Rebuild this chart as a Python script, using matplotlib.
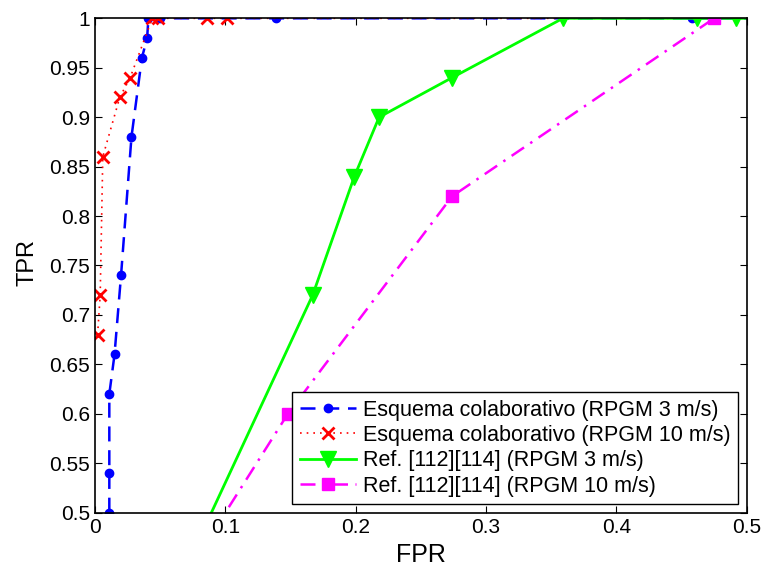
import numpy as np
import matplotlib.pyplot as plt

plt.rcParams['font.family'] = ['Liberation Sans', 'DejaVu Sans']

# Esquema colaborativo (RPGM 3 m/s)
fpr_col3 = [0.011, 0.011, 0.011, 0.015, 0.020, 0.028, 0.036, 0.040, 0.041, 0.050, 0.139, 0.458, 1.0]
tpr_col3 = [0.50, 0.54, 0.62, 0.66, 0.74, 0.88, 0.96, 0.98, 1.00, 1.00, 1.00, 1.00, 1.0]

# Esquema colaborativo (RPGM 10 m/s)
fpr_col10 = [0.002, 0.004, 0.006, 0.019, 0.027, 0.044, 0.048, 0.086, 0.101, 1.0]
tpr_col10 = [0.68, 0.72, 0.86, 0.92, 0.94, 1.00, 1.00, 1.00, 1.00, 1.0]

# Ref. [112][114] (RPGM 3 m/s)
fpr_ref3 = [0.06, 0.167, 0.199, 0.218, 0.274, 0.359, 0.462, 0.492, 1.0]
tpr_ref3 = [0.417, 0.72, 0.84, 0.90, 0.94, 1.00, 1.00, 1.00, 1.0]

# Ref. [112][114] (RPGM 10 m/s)
fpr_ref10 = [0.076, 0.148, 0.274, 0.475]
tpr_ref10 = [0.45, 0.60, 0.82, 1.00]

fig = plt.figure(figsize=(7.61, 5.67), dpi=100)
ax = fig.add_axes([0.1248, 0.0958, 0.8564, 0.8719])

ax.plot(fpr_col3, tpr_col3, color='b', linestyle=(0, (6, 3.5)), linewidth=1.8,
        marker='o', markersize=6, label='Esquema colaborativo (RPGM 3 m/s)')
ax.plot(fpr_col10, tpr_col10, color='r', linestyle=(0, (1, 3)), linewidth=1.2,
        marker='x', markersize=9, markeredgewidth=2, label='Esquema colaborativo (RPGM 10 m/s)')
ax.plot(fpr_ref3, tpr_ref3, color='#00ff00', linestyle='-', linewidth=2,
        marker='v', markersize=12, label='Ref. [112][114] (RPGM 3 m/s)')
ax.plot(fpr_ref10, tpr_ref10, color='magenta', linestyle=(0, (6, 3, 1, 3)), linewidth=1.8,
        marker='s', markersize=8.5, label='Ref. [112][114] (RPGM 10 m/s)')

ax.set_xlim(0, 0.5)
ax.set_ylim(0.5, 1)
ax.set_xticks(np.arange(0, 0.51, 0.1))
ax.set_xticklabels(['0', '0.1', '0.2', '0.3', '0.4', '0.5'])
ax.set_yticks(np.arange(0.5, 1.001, 0.05))
ax.set_yticklabels(['0.5', '0.55', '0.6', '0.65', '0.7', '0.75', '0.8', '0.85', '0.9', '0.95', '1'])
ax.tick_params(direction='in', top=True, right=True, labelsize=15, length=5, width=0.8)
for s in ax.spines.values():
    s.set_linewidth(1.2)

ax.set_xlabel('FPR', fontsize=18)
ax.set_ylabel('TPR', fontsize=17)
ax.xaxis.set_label_coords(0.4995, -0.062)
ax.yaxis.set_label_coords(-0.087, 0.507)

leg = ax.legend(loc='lower right', fontsize=15.5, fancybox=False, framealpha=1,
                edgecolor='k', borderpad=0.35, labelspacing=0.2, handlelength=2.6,
                handletextpad=0.33, borderaxespad=0.4)
leg.get_frame().set_linewidth(1.0)

fig.savefig('out.png', dpi=100)
